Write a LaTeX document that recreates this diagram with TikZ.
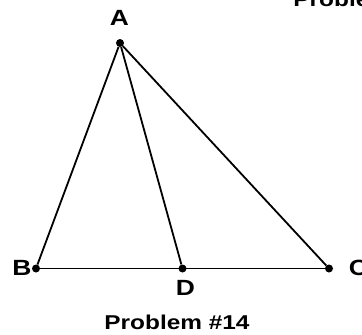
\documentclass[tikz,border=0pt]{standalone}
\usepackage{fontspec}
\setmainfont{Liberation Sans}
\usetikzlibrary{positioning}

\begin{document}
\begin{tikzpicture}[
    x=1pt, y=-1pt,
    point/.style={circle, fill=black, inner sep=0pt, minimum size=8pt},
    seg/.style={line width=1.8pt},
    lbl/.style={font=\fontsize{22}{22}\selectfont\bfseries, inner sep=0pt, xscale=1.2, transform shape},
    caption/.style={font=\fontsize{20}{20}\selectfont\bfseries, inner sep=0pt, xscale=1.22, transform shape}
]
\useasboundingbox (0,0) rectangle (362,335);
\clip (0,0) rectangle (362,335);

% Points
\node[point] (A) at (120,43) {};
\node[point] (B) at (36,268.5) {};
\node[point] (D) at (182.5,268.5) {};
\node[point] (C) at (329,268.5) {};

% Sides
\draw[seg] (A) -- (B);
\draw[seg] (A) -- (D);
\draw[seg] (A) -- (C);
\draw[seg] (B) -- (C);

% Labels
\node[lbl] (labA) at (119.5,18) {A};
\node[lbl] (labB) at (22,268) {B};
\node[lbl] (labD) at (185.5,288) {D};
\node[lbl] (labC) at (358.5,268) {C};

% Captions
\node[caption] (cap) at (177,322) {Problem \#14};
\node[caption] (captop) at (366,-1) {Problem \#13};

\end{tikzpicture}
\end{document}
